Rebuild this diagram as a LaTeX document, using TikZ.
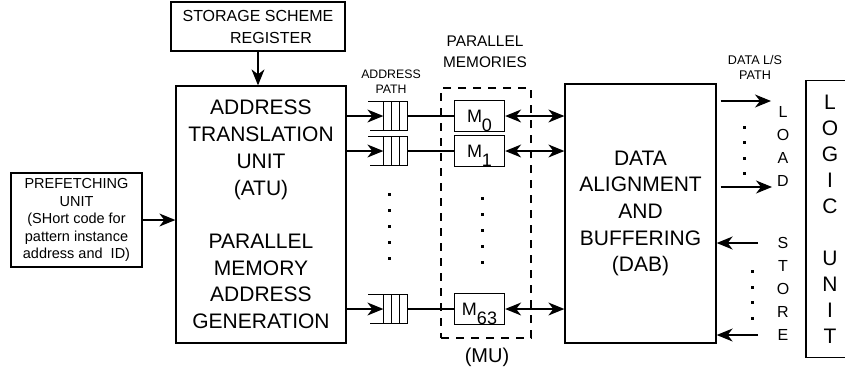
\documentclass[tikz,border=0pt]{standalone}
\usepackage{fontspec}
\setmainfont{Liberation Sans}
\usetikzlibrary{arrows.meta}
\newcommand{\fsz}[2]{\fontsize{#1}{#2}\selectfont}

\begin{document}
\begin{tikzpicture}[x=1pt,y=-1pt,line width=1.3pt,
  >={Stealth[length=16pt,width=13pt,inset=5pt]},
  blk/.style={draw,inner sep=0pt,align=center},
  memblk/.style={draw,inner sep=0pt,minimum width=50pt,minimum height=31pt,font=\fsz{18}{20}},
  qbox/.style={inner sep=0pt,minimum width=23pt,minimum height=28pt},
  lbl/.style={align=center,inner sep=0pt}]
\useasboundingbox (0,0) rectangle (845,373);
\clip (0,0) rectangle (845,373);
\node[blk, minimum width=174pt, minimum height=49pt, font=\fsz{16}{22}] (ssr) at (258,26.5) {STORAGE SCHEME\\\hspace*{26pt}REGISTER};
\node[blk, minimum width=131pt, minimum height=94pt, font=\fsz{14.5}{17.5}] (pf) at (76.5,220) {PREFETCHING\\UNIT\\(SHort code for\\pattern instance\\address and\ \ ID)};
\node[blk, minimum width=170pt, minimum height=257pt, font=\fsz{21}{26.7}] (atu) at (261,214.5) {ADDRESS\\TRANSLATION\\UNIT\\(ATU)\\[26.7pt]PARALLEL\\MEMORY\\ADDRESS\\GENERATION};
\node[blk, minimum width=151pt, minimum height=259pt, font=\fsz{21}{26.7}] (dab) at (640.5,213.5) {DATA\\ALIGNMENT\\AND\\BUFFERING\\(DAB)};
\node[blk, minimum width=48pt, minimum height=277pt, font=\fsz{21}{26}] (lu) at (830,219) {L\\O\\G\\I\\C\\[26pt]U\\N\\I\\T};
\node[draw, dash pattern=on 8pt off 7pt, minimum width=90pt, minimum height=250pt, inner sep=0pt] (mu) at (486,213) {};
\node[lbl, font=\fsz{12.3}{15}] (apath) at (391,81.5) {ADDRESS\\PATH};
\node[lbl, font=\fsz{15.4}{21}] (pmem) at (485,51.5) {PARALLEL\\MEMORIES};
\node[lbl, font=\fsz{12.6}{15}] (dpath) at (755,67.5) {DATA L/S\\PATH};
\node[lbl, font=\fsz{20}{24}] (mulbl) at (487,357) {(MU)};
\node[lbl, font=\fsz{16}{23}] (load) at (783,146) {L\\O\\A\\D};
\node[lbl, font=\fsz{16}{23}] (store) at (783,289) {S\\T\\O\\R\\E};
\draw[->] (ssr.south) -- (ssr.south |- atu.north);
\draw[->] (pf.east) -- (pf.east -| atu.west);
\foreach \n/\yy in {0/116,1/151,63/309} {
  \node[qbox] (q\n) at (395.5,\yy) {};
  \draw (q\n.north west) ++(-15,0) -- (q\n.north east) -- (q\n.south east) -- ++(-38,0);
  \foreach \k in {0,8,16} \draw ([xshift=\k pt]q\n.north west) -- ([xshift=\k pt]q\n.south west);
  \node[memblk] (m\n) at (479.5,\yy) {M\smash{\raisebox{-9pt}{\n}}};
  \draw[->] (q\n.west -| atu.east) -- (q\n.west);
  \draw (q\n.east) -- (m\n.west);
  \draw[<->] (m\n.east) -- (m\n.east -| dab.west);
}
\foreach \yy in {194,210,226,242,258} {
  \fill (389,\yy) +(-1.5,-1.5) rectangle +(1.5,1.5);
  \fill (482,\yy+4) +(-1.5,-1.5) rectangle +(1.5,1.5);
}
\foreach \yy in {127,142,158,173} \fill (744,\yy) +(-1.5,-1.5) rectangle +(1.5,1.5);
\foreach \yy in {271,287,302,318} \fill (752,\yy) +(-1.5,-1.5) rectangle +(1.5,1.5);
\coordinate (ld0) at (771,101);
\coordinate (ld1) at (772,187);
\coordinate (st0) at (758,243);
\coordinate (st1) at (758,335);
\draw[->, shorten <=4pt] (ld0 -| dab.east) -- (ld0);
\draw[->, shorten <=4pt] (ld1 -| dab.east) -- (ld1);
\draw[->] (st0) -- (st0 -| dab.east);
\draw[->] (st1) -- (st1 -| dab.east);
\end{tikzpicture}
\end{document}
